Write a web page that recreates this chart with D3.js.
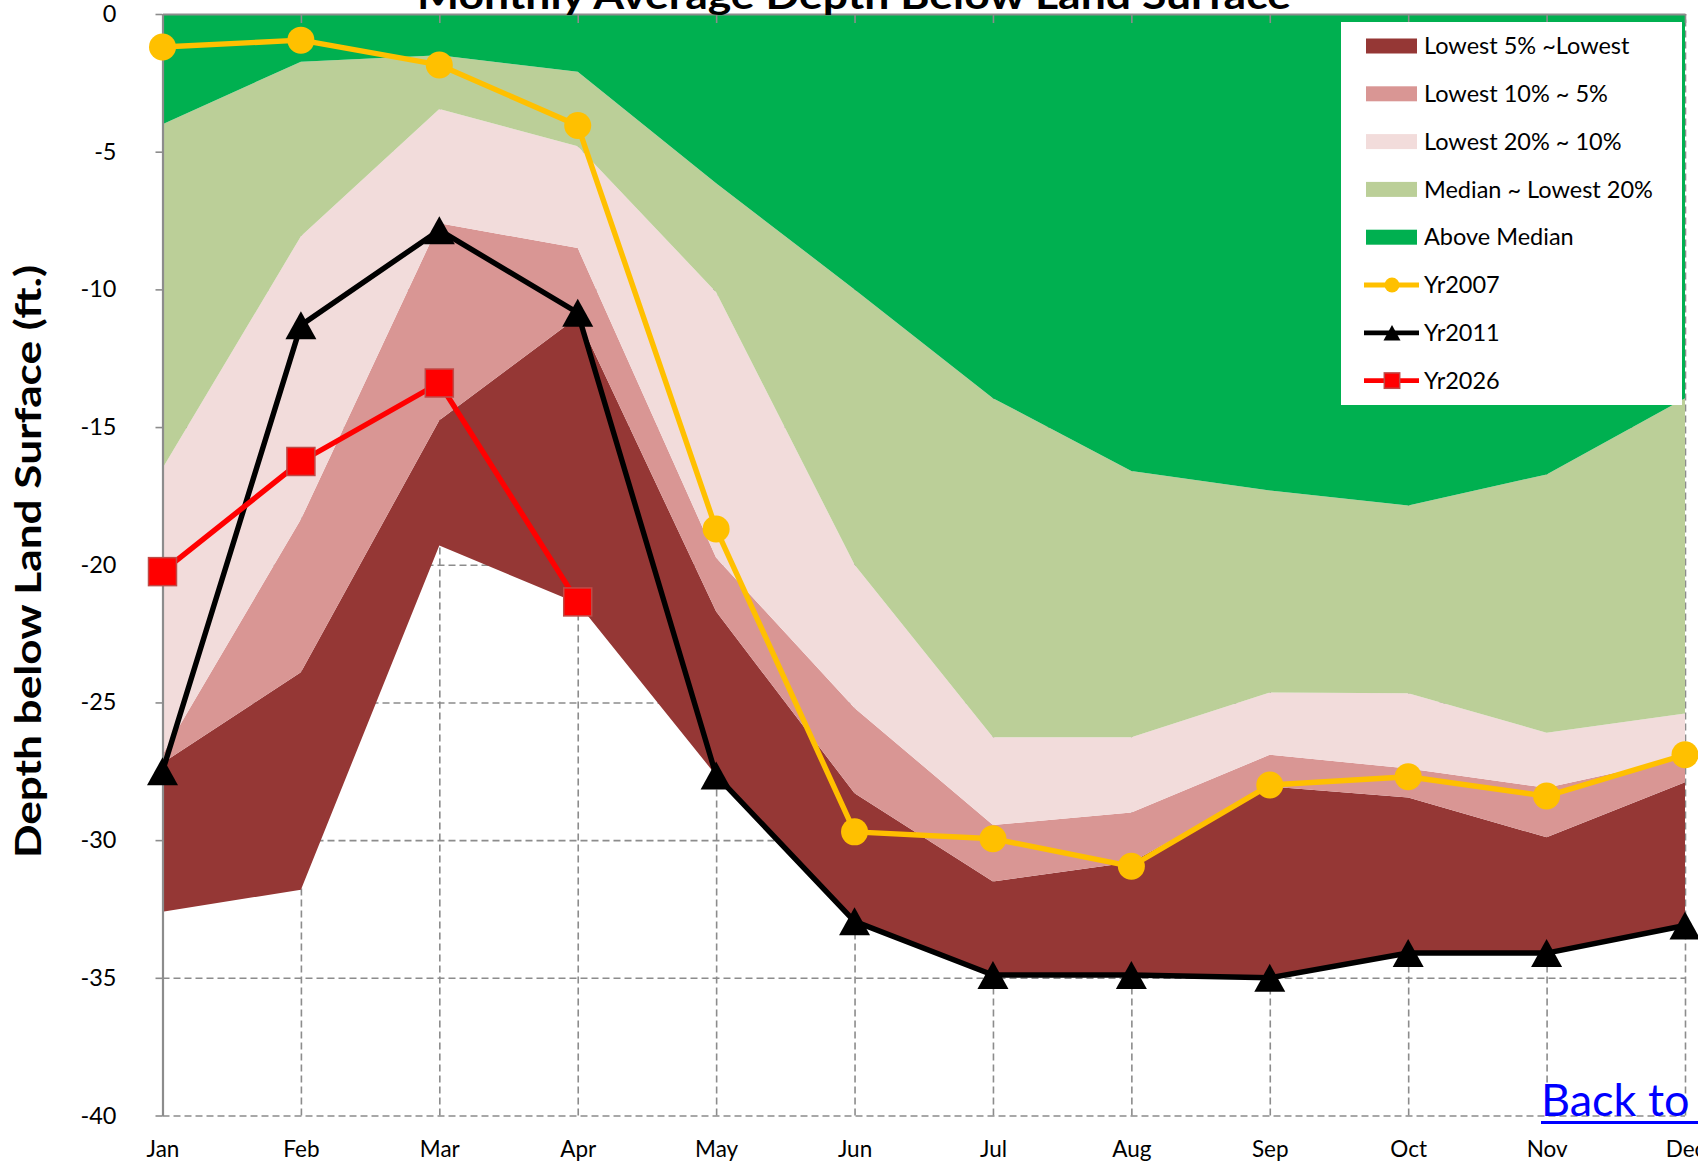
<!DOCTYPE html>
<html>
<head>
<meta charset="utf-8">
<script src="https://cdn.jsdelivr.net/npm/d3@7"></script>
<style>
  body { margin: 0; background: #fff; overflow: hidden; }
  svg { display: block; font-family: Lato, "Open Sans", sans-serif; }
</style>
</head>
<body>
<svg id="chart" width="1698" height="1165"></svg>
<script>
// Monthly depth-to-water statistics (ft. below land surface, negative = deeper)
const months = ["Jan", "Feb", "Mar", "Apr", "May", "Jun", "Jul", "Aug", "Sep", "Oct", "Nov", "Dec"];
const lowest = [-32.6, -31.8, -19.3, -21.4, -27.65, -32.95, -34.9, -34.9, -35.0, -34.1, -34.1, -33.1];
const pct5   = [-27.2, -23.9, -14.75, -11.0, -21.7, -28.3, -31.5, -30.8, -28.05, -28.45, -29.9, -27.9];
const pct10  = [-26.9, -18.35, -7.6, -8.5, -19.75, -25.2, -29.45, -29.0, -26.9, -27.4, -28.1, -27.0];
const pct20  = [-16.5, -8.07, -3.45, -4.8, -10.1, -20.0, -26.26, -26.26, -24.64, -24.67, -26.1, -25.4];
const median = [-4.0, -1.73, -1.5, -2.1, -6.15, -10.0, -13.95, -16.6, -17.3, -17.85, -16.72, -13.95];
const surface = 0;

const yr2007 = [-1.2, -0.95, -1.85, -4.05, -18.7, -29.7, -29.95, -30.95, -28.0, -27.7, -28.4, -26.9];
const yr2011 = [-27.5, -11.3, -7.85, -10.85, -27.65, -32.95, -34.9, -34.9, -35.0, -34.1, -34.1, -33.1];
const yr2026 = [-20.25, -16.25, -13.4, -21.35];

const yTicks = [0, -5, -10, -15, -20, -25, -30, -35, -40];

const chartTitle = "Monthly Average Depth Below  Land Surface";
const yTitle = "Depth below Land Surface (ft.)";
const linkText = "Back to Map";

// ---- layout ----
const plotLeft = 162.5, plotRight = 1685, plotTop = 14, plotBottom = 1115.5;
const svg = d3.select("#chart");

const x = d3.scalePoint().domain(months).range([plotLeft, plotRight]);
const y = d3.scaleLinear().domain([-40, 0]).range([plotBottom, plotTop]);

const gridColor = "#8c8c8c";
const axisColor = "#8c8c8c";

// ---- dashed gridlines (behind the bands) ----
svg.append("g")
  .attr("transform", `translate(${plotLeft},0)`)
  .call(d3.axisLeft(y).tickValues(yTicks.filter(v => v !== 0)).tickSize(-(plotRight - plotLeft)).tickFormat(""))
  .call(g => g.select(".domain").remove())
  .call(g => g.selectAll("line").attr("stroke", gridColor).attr("stroke-width", 1.6).attr("stroke-dasharray", "7,4"));

svg.append("g")
  .attr("transform", `translate(0,${plotBottom})`)
  .call(d3.axisBottom(x).tickValues(months.slice(1)).tickSize(-(plotBottom - plotTop)).tickFormat(""))
  .call(g => g.select(".domain").remove())
  .call(g => g.selectAll("line").attr("stroke", gridColor).attr("stroke-width", 1.6).attr("stroke-dasharray", "7,4"));

// ---- percentile bands ----
const bands = [
  { label: "Lowest 5% ~Lowest",     lo: lowest, hi: pct5,   color: "#953735" },
  { label: "Lowest 10% ~ 5%",       lo: pct5,   hi: pct10,  color: "#d99694" },
  { label: "Lowest 20% ~ 10%",      lo: pct10,  hi: pct20,  color: "#f2dcdb" },
  { label: "Median ~ Lowest 20%",   lo: pct20,  hi: median, color: "#bbcf98" },
  { label: "Above Median",          lo: median, hi: months.map(() => surface), color: "#00b050" }
];

const bandArea = (lo, hi) => d3.area()
  .x((d, i) => x(months[i]))
  .y0((d, i) => y(lo[i]))
  .y1((d, i) => y(hi[i]));

svg.append("g").selectAll("path")
  .data(bands)
  .join("path")
  .attr("d", b => bandArea(b.lo, b.hi)(months))
  .attr("fill", b => b.color);

// ---- axes ----
const yAxis = svg.append("g")
  .attr("transform", `translate(${plotLeft},0)`)
  .call(d3.axisLeft(y).tickValues(yTicks).tickSize(7).tickSizeOuter(0).tickPadding(39).tickFormat(d => String(d)));
yAxis.select(".domain").attr("stroke", axisColor).attr("stroke-width", 2.2);
yAxis.selectAll("line").attr("stroke", axisColor).attr("stroke-width", 1.6);
yAxis.selectAll("text").attr("font-size", 23.5).attr("fill", "#000").attr("font-family", "Lato, sans-serif");

const xTop = svg.append("g")
  .attr("transform", `translate(0,${y(0)})`)
  .call(d3.axisBottom(x).tickSize(9).tickSizeOuter(0).tickFormat(""));
xTop.select(".domain").attr("stroke", axisColor).attr("stroke-width", 2.2);
xTop.selectAll("line").attr("stroke", axisColor).attr("stroke-width", 1.6);

const xLabels = svg.append("g")
  .attr("transform", `translate(0,${plotBottom})`)
  .call(d3.axisBottom(x).tickSize(0).tickPadding(26));
xLabels.select(".domain").remove();
xLabels.selectAll("text").attr("font-size", 22.5).attr("fill", "#000").attr("font-family", "Lato, sans-serif");

// ---- yearly series ----
const seriesLine = d3.line().x((d, i) => x(months[i])).y(d => y(d));

const series = [
  { label: "Yr2007", values: yr2007, color: "#ffc000", marker: "circle" },
  { label: "Yr2011", values: yr2011, color: "#000000", marker: "triangle" },
  { label: "Yr2026", values: yr2026, color: "#ff0000", marker: "square" }
];

function drawMarker(g, kind, color, s) {
  if (kind === "circle") {
    g.append("circle").attr("r", 13.5 * s).attr("fill", color);
  } else if (kind === "triangle") {
    const h = 14 * s, w = 15.5 * s;
    g.append("path").attr("d", `M0,${-h}L${w},${h}L${-w},${h}Z`).attr("fill", color);
  } else {
    const a = 14 * s;
    g.append("rect").attr("x", -a).attr("y", -a).attr("width", 2 * a).attr("height", 2 * a)
      .attr("fill", color).attr("stroke", "#be4b48").attr("stroke-width", 1.5);
  }
}

series.forEach(sr => {
  const g = svg.append("g");
  g.append("path")
    .attr("d", seriesLine(sr.values))
    .attr("fill", "none")
    .attr("stroke", sr.color)
    .attr("stroke-width", 5.4)
    .attr("stroke-linejoin", "round");
  sr.values.forEach((v, i) => {
    const m = g.append("g").attr("transform", `translate(${x(months[i])},${y(v)})`);
    drawMarker(m, sr.marker, sr.color, 1);
  });
});

// ---- legend ----
const legend = svg.append("g").attr("transform", "translate(1341,22)");
legend.append("rect").attr("width", 341).attr("height", 383).attr("fill", "#fff");
const rowY = i => 24 + i * 47.8;

bands.forEach((b, i) => {
  legend.append("rect").attr("x", 25).attr("y", rowY(i) - 7.5).attr("width", 51).attr("height", 15).attr("fill", b.color);
  legend.append("text").attr("x", 83).attr("y", rowY(i)).attr("dy", "0.35em")
    .attr("font-size", 23.5).attr("fill", "#000").text(b.label);
});
series.forEach((sr, j) => {
  const i = bands.length + j;
  legend.append("line").attr("x1", 23).attr("x2", 78).attr("y1", rowY(i)).attr("y2", rowY(i))
    .attr("stroke", sr.color).attr("stroke-width", 4.8);
  const m = legend.append("g").attr("transform", `translate(51,${rowY(i)})`);
  drawMarker(m, sr.marker, sr.color, 0.55);
  legend.append("text").attr("x", 83).attr("y", rowY(i)).attr("dy", "0.35em")
    .attr("font-size", 23.5).attr("fill", "#000").text(sr.label);
});

// ---- titles ----
svg.append("text")
  .attr("x", 854).attr("y", 8.5)
  .attr("text-anchor", "middle")
  .attr("font-size", 38).attr("font-weight", "bold")
  .attr("textLength", 874).attr("lengthAdjust", "spacingAndGlyphs")
  .attr("fill", "#000")
  .text(chartTitle);

svg.append("text")
  .attr("transform", "translate(41,561.5) rotate(-90)")
  .attr("text-anchor", "middle")
  .attr("font-size", 36).attr("font-weight", "bold")
  .attr("textLength", 593).attr("lengthAdjust", "spacingAndGlyphs")
  .attr("fill", "#000")
  .text(yTitle);

// ---- hyperlink cell ----
svg.append("text")
  .attr("x", 1541).attr("y", 1116)
  .attr("font-size", 45).attr("fill", "#0000ff")
  .text(linkText);
svg.append("rect").attr("x", 1541).attr("y", 1121).attr("width", 1698 - 1541).attr("height", 3).attr("fill", "#0000ff");
</script>
</body>
</html>
